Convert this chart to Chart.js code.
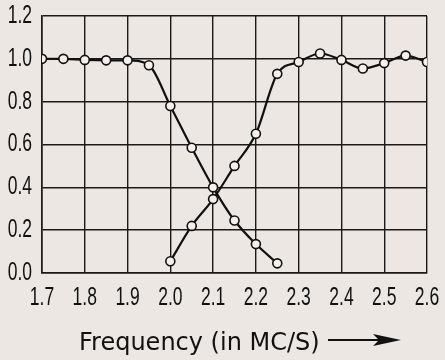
<!DOCTYPE html>
<html>
<head>
<meta charset="utf-8">
<script src="https://cdn.jsdelivr.net/npm/chart.js@4/dist/chart.umd.min.js"></script>
<style>
  body { margin: 0; background: #ece7e2; }
  #wrap { width: 445px; height: 360px; }
</style>
</head>
<body>
<div id="wrap"><canvas id="myChart" width="445" height="360"></canvas></div>
<script>
// frequency (MC/S) and response of the two curves
const freqA = [1.7, 1.75, 1.8, 1.85, 1.9, 1.95, 2.0, 2.05, 2.1, 2.15, 2.2, 2.25];
const curveA = [1.0, 1.0, 0.995, 0.993, 0.993, 0.97, 0.78, 0.585, 0.40, 0.245, 0.135, 0.045];
const freqB = [2.0, 2.05, 2.1, 2.15, 2.2, 2.25, 2.3, 2.35, 2.4, 2.45, 2.5, 2.55, 2.6];
const curveB = [0.055, 0.22, 0.345, 0.50, 0.65, 0.93, 0.985, 1.025, 0.995, 0.955, 0.98, 1.015, 0.985];
const xTicks = [1.7, 1.8, 1.9, 2.0, 2.1, 2.2, 2.3, 2.4, 2.5, 2.6];
const yTicks = [0.0, 0.2, 0.4, 0.6, 0.8, 1.0, 1.2];
const xTitle = 'Frequency (in MC/S)';

function toPoints(xs, ys) {
    return xs.map((x, i) => ({ x: x, y: ys[i] }));
}

const lineStyle = {
    borderColor: '#111',
    borderWidth: 2.2,
    pointRadius: 4.5,
    pointBackgroundColor: '#f4f0ec',
    pointBorderColor: '#111',
    pointBorderWidth: 1.6,
    cubicInterpolationMode: 'monotone',
    fill: false,
};

// narrow tick labels (old print face is very condensed)
function narrowText(ctx, txt, x, y, align) {
    const sx = 0.7;
    ctx.save();
    ctx.translate(x, y);
    ctx.scale(sx, 1);
    ctx.textAlign = align;
    ctx.fillText(txt, 0, 0);
    ctx.restore();
}

const labelPlugin = {
    id: 'labels',
    afterDraw(chart) {
        const ctx = chart.ctx;
        const xs = chart.scales.x, ys = chart.scales.y;
        ctx.save();
        ctx.fillStyle = '#111';
        ctx.font = "25px 'Liberation Sans', sans-serif";
        ctx.textBaseline = 'middle';
        for (const v of xTicks) {
            narrowText(ctx, v.toFixed(1), xs.getPixelForValue(v), 298, 'center');
        }
        for (const v of yTicks) {
            narrowText(ctx, v.toFixed(1), 32, ys.getPixelForValue(v), 'right');
        }
        // x title with the arrow after it
        ctx.textBaseline = 'alphabetic';
        ctx.font = "24px 'DejaVu Sans', sans-serif";
        ctx.textAlign = 'left';
        ctx.fillText(xTitle, 79, 350);
        ctx.strokeStyle = '#111';
        ctx.lineWidth = 2;
        ctx.beginPath();
        ctx.moveTo(328, 340);
        ctx.lineTo(392, 340);
        ctx.stroke();
        ctx.beginPath();
        ctx.moveTo(401, 340);
        ctx.lineTo(373, 334);
        ctx.lineTo(379, 340);
        ctx.lineTo(373, 346);
        ctx.closePath();
        ctx.fill();
        ctx.restore();
    }
};

new Chart(document.getElementById('myChart').getContext('2d'), {
    type: 'line',
    data: {
        datasets: [
            Object.assign({ data: toPoints(freqA, curveA) }, lineStyle),
            Object.assign({ data: toPoints(freqB, curveB) }, lineStyle),
        ],
    },
    options: {
        responsive: false,
        animation: false,
        layout: { padding: { left: 0, right: 18, top: 16, bottom: 0 } },
        plugins: { legend: { display: false }, tooltip: { enabled: false } },
        scales: {
            x: {
                type: 'linear',
                min: 1.7,
                max: 2.6,
                afterBuildTicks: (s) => { s.ticks = xTicks.map(v => ({ value: v })); },
                afterFit: (s) => { s.height = 87; },
                ticks: { display: false },
                grid: { color: '#1a1a1a', lineWidth: 1.4, drawTicks: false },
                border: { color: '#1a1a1a', width: 1.6 },
            },
            y: {
                min: 0,
                max: 1.2,
                afterBuildTicks: (s) => { s.ticks = yTicks.map(v => ({ value: v })); },
                afterFit: (s) => { s.width = 42; },
                ticks: { display: false },
                grid: { color: '#1a1a1a', lineWidth: 1.4, drawTicks: false },
                border: { color: '#1a1a1a', width: 1.6 },
            },
        },
    },
    plugins: [labelPlugin],
});
</script>
</body>
</html>
